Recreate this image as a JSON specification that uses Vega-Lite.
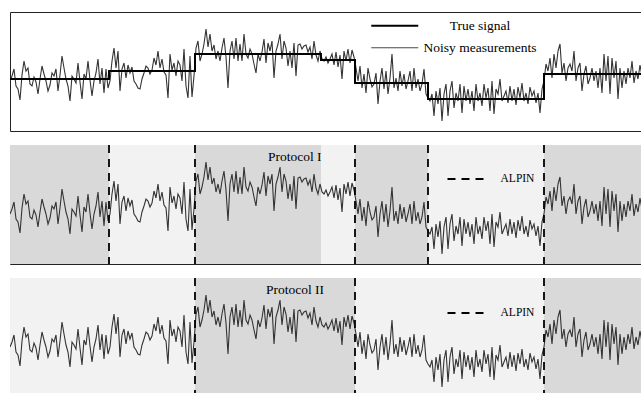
{
  "$schema": "https://vega.github.io/schema/vega-lite/v6.json",
  "padding": {"left": 9, "top": 11, "right": 0, "bottom": 0},
  "bounds": "flush",
  "spacing": 14,
  "config": {
    "view": {"stroke": "#222222", "strokeWidth": 1},
    "font": "Liberation Serif",
    "title": {"font": "Liberation Serif", "fontSize": 13.5, "fontWeight": "normal", "color": "#000000"},
    "legend": {"labelFont": "Liberation Serif", "labelColor": "#000000", "padding": 0}
  },
  "datasets": {
    "noise": [
      {"t":0,"v":50},{"t":2,"v":55},{"t":4,"v":62},{"t":6,"v":45},{"t":8,"v":42},{"t":10,"v":31},{"t":12,"v":56},{"t":14,"v":70},{"t":16,"v":60},{"t":18,"v":63},
      {"t":20,"v":47},{"t":22,"v":45},{"t":24,"v":54},{"t":26,"v":49},{"t":28,"v":37},{"t":30,"v":52},{"t":32,"v":65},{"t":34,"v":57},{"t":36,"v":50},{"t":38,"v":40},
      {"t":40,"v":46},{"t":42,"v":58},{"t":44,"v":55},{"t":46,"v":62},{"t":48,"v":40},{"t":50,"v":56},{"t":52,"v":75},{"t":54,"v":63},{"t":56,"v":52},{"t":58,"v":45},
      {"t":60,"v":30},{"t":62,"v":55},{"t":64,"v":52},{"t":66,"v":48},{"t":68,"v":68},{"t":70,"v":49},{"t":72,"v":32},{"t":74,"v":57},{"t":76,"v":52},{"t":78,"v":70},
      {"t":80,"v":51},{"t":82,"v":35},{"t":84,"v":50},{"t":86,"v":58},{"t":88,"v":72},{"t":90,"v":47},{"t":92,"v":63},{"t":94,"v":38},{"t":96,"v":62},{"t":98,"v":43},
      {"t":100,"v":50},{"t":102,"v":70},{"t":104,"v":83},{"t":106,"v":63},{"t":108,"v":80},{"t":110,"v":40},{"t":112,"v":62},{"t":114,"v":68},{"t":116,"v":53},{"t":118,"v":66},
      {"t":120,"v":58},{"t":122,"v":64},{"t":124,"v":50},{"t":126,"v":47},{"t":128,"v":43},{"t":130,"v":42},{"t":132,"v":52},{"t":134,"v":58},{"t":136,"v":65},{"t":138,"v":63},
      {"t":140,"v":57},{"t":142,"v":61},{"t":144,"v":73},{"t":146,"v":66},{"t":148,"v":80},{"t":150,"v":63},{"t":152,"v":72},{"t":154,"v":59},{"t":156,"v":56},{"t":158,"v":33},
      {"t":160,"v":77},{"t":162,"v":61},{"t":164,"v":68},{"t":166,"v":55},{"t":168,"v":70},{"t":170,"v":66},{"t":172,"v":50},{"t":174,"v":82},{"t":176,"v":45},{"t":178,"v":33},
      {"t":180,"v":75},{"t":182,"v":34},{"t":184,"v":55},
      {"t":186,"v":83},{"t":188,"v":90},{"t":190,"v":70},{"t":192,"v":77},{"t":194,"v":87},{"t":196,"v":102},{"t":198,"v":84},{"t":200,"v":97},{"t":202,"v":80},{"t":204,"v":86},
      {"t":206,"v":72},{"t":208,"v":80},{"t":210,"v":70},{"t":212,"v":83},{"t":214,"v":93},{"t":216,"v":74},{"t":218,"v":43},{"t":220,"v":80},{"t":222,"v":90},{"t":224,"v":72},
      {"t":226,"v":93},{"t":228,"v":70},{"t":230,"v":87},{"t":232,"v":70},{"t":234,"v":97},{"t":236,"v":77},{"t":238,"v":73},{"t":240,"v":82},{"t":242,"v":77},{"t":244,"v":67},
      {"t":246,"v":58},{"t":248,"v":77},{"t":250,"v":70},{"t":252,"v":79},{"t":254,"v":92},{"t":256,"v":68},{"t":258,"v":88},{"t":260,"v":80},{"t":262,"v":90},{"t":264,"v":53},
      {"t":266,"v":80},{"t":268,"v":87},{"t":270,"v":97},{"t":272,"v":72},{"t":274,"v":90},{"t":276,"v":83},{"t":278,"v":65},{"t":280,"v":80},{"t":282,"v":63},{"t":284,"v":88},
      {"t":286,"v":55},{"t":288,"v":86},{"t":290,"v":87},{"t":292,"v":82},{"t":294,"v":85},{"t":296,"v":86},{"t":298,"v":79},{"t":300,"v":84},{"t":302,"v":72},{"t":304,"v":90},
      {"t":306,"v":76},{"t":308,"v":70},{"t":310,"v":80},
      {"t":312,"v":72},{"t":314,"v":70},{"t":316,"v":74},{"t":318,"v":68},{"t":320,"v":72},{"t":322,"v":77},{"t":324,"v":66},{"t":326,"v":79},{"t":328,"v":64},{"t":330,"v":76},
      {"t":332,"v":52},{"t":334,"v":80},{"t":336,"v":70},{"t":338,"v":82},{"t":340,"v":68},{"t":342,"v":81},{"t":344,"v":74},
      {"t":346,"v":63},{"t":348,"v":50},{"t":350,"v":65},{"t":352,"v":43},{"t":354,"v":57},{"t":356,"v":38},{"t":358,"v":63},{"t":360,"v":52},{"t":362,"v":44},{"t":364,"v":47},
      {"t":366,"v":58},{"t":368,"v":27},{"t":370,"v":50},{"t":372,"v":63},{"t":374,"v":42},{"t":376,"v":60},{"t":378,"v":37},{"t":380,"v":53},{"t":382,"v":77},{"t":384,"v":43},
      {"t":386,"v":53},{"t":388,"v":40},{"t":390,"v":60},{"t":392,"v":45},{"t":394,"v":57},{"t":396,"v":42},{"t":398,"v":50},{"t":400,"v":60},{"t":402,"v":40},{"t":404,"v":63},
      {"t":406,"v":43},{"t":408,"v":52},{"t":410,"v":40},{"t":412,"v":47},{"t":414,"v":62},{"t":416,"v":37},
      {"t":418,"v":33},{"t":420,"v":30},{"t":422,"v":37},{"t":424,"v":15},{"t":426,"v":40},{"t":428,"v":27},{"t":430,"v":43},{"t":432,"v":10},{"t":434,"v":37},{"t":436,"v":47},
      {"t":438,"v":15},{"t":440,"v":40},{"t":442,"v":50},{"t":444,"v":23},{"t":446,"v":38},{"t":448,"v":30},{"t":450,"v":47},{"t":452,"v":18},{"t":454,"v":45},{"t":456,"v":30},
      {"t":458,"v":42},{"t":460,"v":27},{"t":462,"v":40},{"t":464,"v":20},{"t":466,"v":47},{"t":468,"v":30},{"t":470,"v":38},{"t":472,"v":25},{"t":474,"v":47},{"t":476,"v":33},
      {"t":478,"v":43},{"t":480,"v":20},{"t":482,"v":50},{"t":484,"v":17},{"t":486,"v":42},{"t":488,"v":37},{"t":490,"v":52},{"t":492,"v":30},{"t":494,"v":35},{"t":496,"v":40},
      {"t":498,"v":28},{"t":500,"v":45},{"t":502,"v":30},{"t":504,"v":42},{"t":506,"v":26},{"t":508,"v":44},{"t":510,"v":33},{"t":512,"v":48},{"t":514,"v":30},{"t":516,"v":38},
      {"t":518,"v":27},{"t":520,"v":44},{"t":522,"v":35},{"t":524,"v":40},{"t":526,"v":28},{"t":528,"v":38},{"t":530,"v":18},{"t":532,"v":42},
      {"t":534,"v":50},{"t":536,"v":67},{"t":538,"v":60},{"t":540,"v":73},{"t":542,"v":53},{"t":544,"v":77},{"t":546,"v":63},{"t":548,"v":80},{"t":550,"v":87},{"t":552,"v":58},
      {"t":554,"v":68},{"t":556,"v":50},{"t":558,"v":63},{"t":560,"v":67},{"t":562,"v":60},{"t":564,"v":80},{"t":566,"v":50},{"t":568,"v":63},{"t":570,"v":68},{"t":572,"v":40},
      {"t":574,"v":57},{"t":576,"v":65},{"t":578,"v":47},{"t":580,"v":53},{"t":582,"v":63},{"t":584,"v":50},{"t":586,"v":60},{"t":588,"v":43},{"t":590,"v":63},{"t":592,"v":38},
      {"t":594,"v":77},{"t":596,"v":50},{"t":598,"v":75},{"t":600,"v":37},{"t":602,"v":73},{"t":604,"v":53},{"t":606,"v":70},{"t":608,"v":32},{"t":610,"v":63},{"t":612,"v":43},
      {"t":614,"v":60},{"t":616,"v":47},{"t":618,"v":63},{"t":620,"v":53},{"t":622,"v":70},{"t":624,"v":48},{"t":626,"v":60},{"t":628,"v":52},{"t":630,"v":66},{"t":632,"v":55}
    ],
    "truth": [
      {"t":0,"v":52},{"t":99,"v":60},{"t":185,"v":77},{"t":311,"v":71},{"t":345,"v":48},{"t":418,"v":32},{"t":534,"v":57},{"t":632,"v":57}
    ],
    "bands1": [
      {"start":0,"end":99,"shade":"dark"},{"start":99,"end":185,"shade":"light"},{"start":185,"end":311,"shade":"dark"},
      {"start":311,"end":345,"shade":"light"},{"start":345,"end":418,"shade":"dark"},{"start":418,"end":534,"shade":"light"},
      {"start":534,"end":632,"shade":"dark"}
    ],
    "bands2": [
      {"start":0,"end":185,"shade":"light"},{"start":185,"end":345,"shade":"dark"},{"start":345,"end":534,"shade":"light"},
      {"start":534,"end":632,"shade":"dark"}
    ],
    "alpin1": [{"t":99},{"t":185},{"t":345},{"t":418},{"t":534}],
    "alpin2": [{"t":185},{"t":345},{"t":534}]
  },
  "resolve": {
    "scale": {"x": "independent", "y": "independent", "color": "independent", "strokeDash": "independent"},
    "legend": {"color": "independent", "strokeDash": "independent"}
  },
  "vconcat": [
    {
      "width": 631,
      "height": 119,
      "layer": [
        {
          "data": {"name": "noise"},
          "mark": {"type": "line", "strokeWidth": 1.1, "clip": true},
          "encoding": {
            "x": {"field": "t", "type": "quantitative", "scale": {"domain": [0, 631], "nice": false, "zero": false}, "axis": null},
            "y": {"field": "v", "type": "quantitative", "scale": {"domain": [0, 119], "nice": false, "zero": false}, "axis": null},
            "color": {
              "datum": "Noisy measurements",
              "type": "nominal",
              "scale": {"domain": ["True signal", "Noisy measurements"], "range": ["#000000", "#333333"]},
              "legend": {
                "title": null,
                "orient": "none",
                "legendX": 378,
                "legendY": 7,
                "direction": "vertical",
                "symbolType": "M-4.7,0H4.7",
                "symbolSize": 100,
                "labelAlign": "center",
                "labelOffset": 78.5,
                "labelFontSize": 13.5,
                "rowPadding": 7,
                "encode": {"symbols": {"update": {"strokeWidth": {"signal": "datum.value === 'True signal' ? 2 : 0.9"}}}}
              }
            }
          }
        },
        {
          "data": {"name": "truth"},
          "mark": {"type": "line", "strokeWidth": 2, "interpolate": "step-after", "clip": true},
          "encoding": {
            "x": {"field": "t", "type": "quantitative", "scale": {"domain": [0, 631], "nice": false, "zero": false}, "axis": null},
            "y": {"field": "v", "type": "quantitative", "scale": {"domain": [0, 119], "nice": false, "zero": false}, "axis": null},
            "color": {"datum": "True signal", "type": "nominal"}
          }
        }
      ]
    },
    {
      "width": 631,
      "height": 119,
      "title": {"text": "Protocol I", "anchor": "start", "frame": "group", "orient": "top", "dx": 258, "offset": -30, "baseline": "alphabetic"},
      "layer": [
        {
          "data": {"name": "bands1"},
          "mark": {"type": "rect", "clip": true},
          "encoding": {
            "x": {"field": "start", "type": "quantitative", "scale": {"domain": [0, 631], "nice": false, "zero": false}, "axis": null},
            "x2": {"field": "end"},
            "color": {"field": "shade", "type": "nominal", "scale": {"domain": ["dark", "light"], "range": ["#d9d9d9", "#f2f2f2"]}, "legend": null}
          }
        },
        {
          "data": {"name": "noise"},
          "mark": {"type": "line", "color": "#333333", "strokeWidth": 1.1, "clip": true},
          "encoding": {
            "x": {"field": "t", "type": "quantitative", "scale": {"domain": [0, 631], "nice": false, "zero": false}, "axis": null},
            "y": {"field": "v", "type": "quantitative", "scale": {"domain": [0, 119], "nice": false, "zero": false}, "axis": null}
          }
        },
        {
          "data": {"name": "alpin1"},
          "mark": {"type": "rule", "color": "#000000", "strokeWidth": 1.8},
          "encoding": {
            "x": {"field": "t", "type": "quantitative", "scale": {"domain": [0, 631], "nice": false, "zero": false}, "axis": null},
            "strokeDash": {
              "datum": "ALPIN",
              "type": "nominal",
              "scale": {"domain": ["ALPIN"], "range": [[8, 6]]},
              "legend": {
                "title": null,
                "orient": "none",
                "legendX": 451.5,
                "legendY": 28,
                "symbolType": "M-4,0H4",
                "symbolSize": 100,
                "symbolStrokeWidth": 1.8,
                "labelAlign": "center",
                "labelOffset": 44,
                "labelFontSize": 11.5
              }
            }
          }
        }
      ]
    },
    {
      "width": 631,
      "height": 116,
      "view": {"stroke": null},
      "title": {"text": "Protocol II", "anchor": "start", "frame": "group", "orient": "top", "dx": 256, "offset": -30, "baseline": "alphabetic"},
      "layer": [
        {
          "data": {"name": "bands2"},
          "mark": {"type": "rect", "clip": true},
          "encoding": {
            "x": {"field": "start", "type": "quantitative", "scale": {"domain": [0, 631], "nice": false, "zero": false},
                  "axis": {"orient": "top", "domain": true, "domainColor": "#222222", "domainWidth": 1, "ticks": false, "labels": false, "grid": false, "title": null}},
            "x2": {"field": "end"},
            "color": {"field": "shade", "type": "nominal", "scale": {"domain": ["dark", "light"], "range": ["#d9d9d9", "#f2f2f2"]}, "legend": null}
          }
        },
        {
          "data": {"name": "noise"},
          "mark": {"type": "line", "color": "#333333", "strokeWidth": 1.1, "clip": true},
          "encoding": {
            "x": {"field": "t", "type": "quantitative", "scale": {"domain": [0, 631], "nice": false, "zero": false},
                  "axis": {"orient": "top", "domain": true, "domainColor": "#222222", "domainWidth": 1, "ticks": false, "labels": false, "grid": false, "title": null}},
            "y": {"field": "v", "type": "quantitative", "scale": {"domain": [3, 119], "nice": false, "zero": false},
                  "axis": {"orient": "left", "domain": true, "domainColor": "#222222", "domainWidth": 1, "ticks": false, "labels": false, "grid": false, "title": null}}
          }
        },
        {
          "data": {"name": "alpin2"},
          "mark": {"type": "rule", "color": "#000000", "strokeWidth": 1.8},
          "encoding": {
            "x": {"field": "t", "type": "quantitative", "scale": {"domain": [0, 631], "nice": false, "zero": false},
                  "axis": {"orient": "top", "domain": true, "domainColor": "#222222", "domainWidth": 1, "ticks": false, "labels": false, "grid": false, "title": null}},
            "strokeDash": {
              "datum": "ALPIN",
              "type": "nominal",
              "scale": {"domain": ["ALPIN"], "range": [[8, 6]]},
              "legend": {
                "title": null,
                "orient": "none",
                "legendX": 451.5,
                "legendY": 29,
                "symbolType": "M-4,0H4",
                "symbolSize": 100,
                "symbolStrokeWidth": 1.8,
                "labelAlign": "center",
                "labelOffset": 44,
                "labelFontSize": 11.5
              }
            }
          }
        }
      ]
    }
  ]
}
